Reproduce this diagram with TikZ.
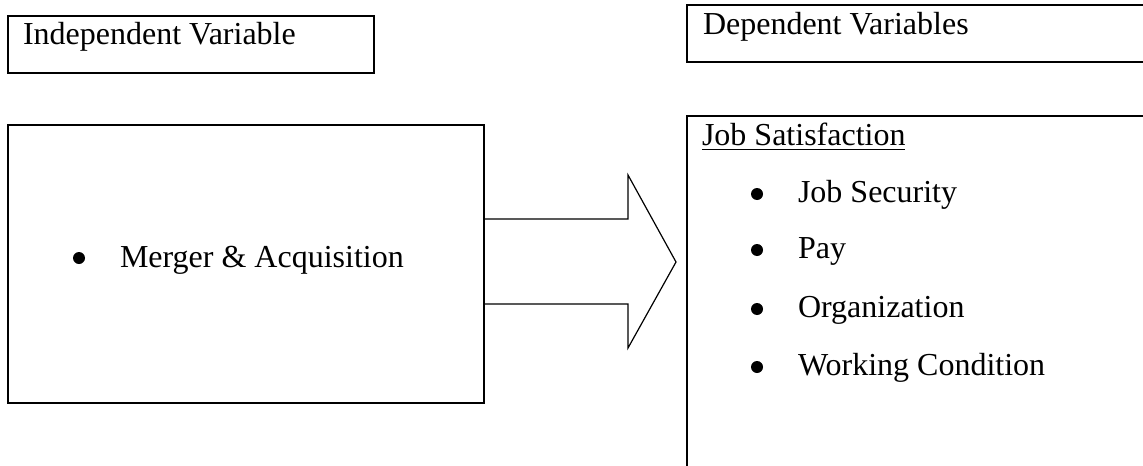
\documentclass[tikz,border=0pt]{standalone}
\usepackage{fontspec}
\setmainfont{Liberation Serif}
\begin{document}
\begin{tikzpicture}[x=0.5pt,y=-0.5pt,
  box/.style={draw,line width=0.8pt,inner sep=0pt,outer sep=0pt,anchor=north west},
  lbl/.style={anchor=base west,inner sep=0pt,outer sep=0pt,font=\fontsize{16}{19}\selectfont},
  bul/.style={circle,fill,inner sep=0pt,minimum size=6pt},
  bigarrow/.style={draw,line width=0.6pt,line join=miter}]
\useasboundingbox (0,0) rectangle (1143,465);
\clip (0,0) rectangle (1143,465);
% boxes
\node[box,minimum width=183pt,minimum height=28.5pt] (iv) at (8,16) {};
\node[box,minimum width=240pt,minimum height=28.5pt] (dv) at (687,5) {};
\node[box,minimum width=238pt,minimum height=139pt] (m) at (8,125) {};
\node[box,minimum width=240pt,minimum height=185pt] (js) at (687,116) {};
% titles
\node[lbl] (ivt) at (23,45) {Independent Variable};
\node[lbl] (dvt) at (703,35) {Dependent Variables};
% merger
\node[bul] (b0) at (79,258) {};
\node[lbl] (mt) at (120,267) {Merger \& Acquisition};
% job satisfaction
\node[lbl] (jst) at (702,145) {Job Satisfaction};
\draw[line width=0.6pt] (702,149.5) -- (905,149.5);
\node[bul] (b1) at (757,194) {};
\node[lbl] (j1) at (798,202) {Job Security};
\node[bul] (b2) at (757,250) {};
\node[lbl] (j2) at (798,258) {Pay};
\node[bul] (b3) at (757,309) {};
\node[lbl] (j3) at (798,317) {Organization};
\node[bul] (b4) at (757,367) {};
\node[lbl] (j4) at (798,375) {Working Condition};
% block arrow from m to js
\coordinate (st) at (0,219);
\coordinate (sb) at (0,304);
\coordinate (tip) at (676,262);
\draw[bigarrow] (m.east |- sb) -- (628,304) -- (628,348) -- (tip) -- (628,175) -- (628,219) -- (m.east |- st);
\end{tikzpicture}
\end{document}
